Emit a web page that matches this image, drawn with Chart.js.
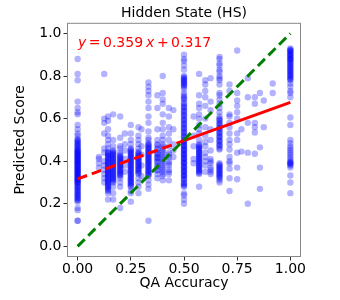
<!DOCTYPE html>
<html>
<head>
<meta charset="utf-8">
<script src="https://cdn.jsdelivr.net/npm/chart.js@4.4.1/dist/chart.umd.min.js"></script>
<style>
  html, body { margin: 0; padding: 0; background: #fff; }
</style>
</head>
<body>
<canvas id="chart" width="340" height="300"></canvas>
<script>
// QA accuracy levels (x) and the predicted scores read at each level (y)
const qaLevels = [0, 0.1, 0.125, 0.143, 0.167, 0.2, 0.222, 0.25, 0.286, 0.3, 0.333, 0.375, 0.4, 0.429, 0.45,
  0.5, 0.545, 0.571, 0.6, 0.625, 0.667, 0.714, 0.75, 0.77, 0.8, 0.833, 0.857, 0.875, 0.917, 1];
const predByLevel = [
  [0.88, 0.81, 0.78, 0.68, 0.65, 0.63, 0.62, 0.57, 0.55, 0.53, 0.52,
   0.505, 0.50, 0.495, 0.49, 0.485, 0.48, 0.475, 0.47, 0.465, 0.46, 0.455, 0.45, 0.445, 0.44, 0.435, 0.43, 0.425,
   0.42, 0.415, 0.41, 0.405, 0.40, 0.395, 0.39, 0.385, 0.38, 0.375, 0.37, 0.365, 0.36, 0.355, 0.35, 0.345, 0.34,
   0.335, 0.33, 0.325, 0.32, 0.315, 0.31, 0.305, 0.30, 0.295, 0.29, 0.285, 0.28, 0.275, 0.27, 0.265, 0.26, 0.255,
   0.25, 0.245, 0.24, 0.235, 0.23, 0.225, 0.22, 0.215, 0.21,
   0.45, 0.44, 0.43, 0.42, 0.41, 0.40, 0.39, 0.38, 0.37, 0.36, 0.35, 0.34, 0.33, 0.32, 0.31, 0.30,
   0.18, 0.17, 0.12, 0.12],
  [0.42, 0.41, 0.39, 0.37],
  [0.81, 0.60, 0.58, 0.53, 0.46, 0.44, 0.40, 0.38, 0.36, 0.34, 0.32, 0.30],
  [0.61, 0.59, 0.55, 0.52, 0.50, 0.48, 0.46, 0.44, 0.43, 0.42, 0.41, 0.40, 0.39, 0.38, 0.37, 0.36, 0.35, 0.34,
   0.33, 0.32, 0.31, 0.30, 0.29, 0.28, 0.27, 0.26, 0.25, 0.22,
   0.445, 0.435, 0.425, 0.415, 0.405, 0.395, 0.385, 0.375, 0.365, 0.355, 0.345, 0.335, 0.325, 0.315, 0.305,
   0.295, 0.285, 0.275, 0.265],
  [0.62, 0.50, 0.47, 0.45, 0.44, 0.43, 0.42, 0.41, 0.40, 0.39, 0.38, 0.37, 0.36, 0.35, 0.34, 0.33, 0.32, 0.31,
   0.30, 0.28, 0.25, 0.22,
   0.445, 0.435, 0.425, 0.415, 0.405, 0.395, 0.385, 0.375, 0.365, 0.355, 0.345, 0.335, 0.325, 0.315, 0.305],
  [0.61, 0.51, 0.47, 0.46, 0.44, 0.43, 0.42, 0.41, 0.40, 0.39, 0.38, 0.37, 0.36, 0.35, 0.34, 0.33, 0.32, 0.30,
   0.28, 0.18,
   0.425, 0.415, 0.405, 0.395, 0.385, 0.375, 0.365, 0.355, 0.345, 0.335],
  [0.53, 0.48, 0.45, 0.41, 0.38, 0.35],
  [0.57, 0.53, 0.50, 0.48, 0.46, 0.45, 0.44, 0.43, 0.42, 0.41, 0.40, 0.39, 0.38, 0.37, 0.36, 0.35, 0.34, 0.33,
   0.32, 0.31, 0.30, 0.29, 0.28, 0.26, 0.25, 0.21,
   0.455, 0.445, 0.435, 0.425, 0.415, 0.405, 0.395, 0.385, 0.375, 0.365, 0.355, 0.345, 0.335, 0.325, 0.315,
   0.305, 0.295, 0.285],
  [0.56, 0.52, 0.50, 0.48, 0.46, 0.44, 0.43, 0.42, 0.41, 0.40, 0.39, 0.38, 0.37, 0.36, 0.35, 0.34, 0.32, 0.30,
   0.28, 0.25,
   0.445, 0.435, 0.425, 0.415, 0.405, 0.395, 0.385, 0.375, 0.365, 0.355, 0.345],
  [0.55, 0.47, 0.43, 0.38, 0.33],
  [0.77, 0.75, 0.73, 0.71, 0.68, 0.65, 0.61, 0.58, 0.54, 0.51, 0.50, 0.48, 0.47, 0.46, 0.45, 0.44, 0.43, 0.42,
   0.41, 0.40, 0.39, 0.38, 0.37, 0.36, 0.35, 0.34, 0.33, 0.31, 0.29, 0.27, 0.12,
   0.485, 0.475, 0.465, 0.455, 0.445, 0.435, 0.425, 0.415, 0.405, 0.395, 0.385, 0.375, 0.365, 0.355, 0.345, 0.335],
  [0.71, 0.65, 0.55, 0.50, 0.48, 0.46, 0.44, 0.43, 0.42, 0.41, 0.40, 0.38, 0.36, 0.34, 0.32,
   0.475, 0.455, 0.435, 0.415, 0.395, 0.375, 0.355],
  [0.80, 0.72, 0.69, 0.67, 0.62, 0.58, 0.55, 0.52, 0.50, 0.48, 0.46, 0.45, 0.43, 0.41, 0.39, 0.37, 0.35, 0.33, 0.31,
   0.47, 0.44, 0.42, 0.40, 0.38, 0.36, 0.34],
  [0.65, 0.61, 0.56, 0.53, 0.50, 0.47, 0.44, 0.42, 0.40, 0.38, 0.36, 0.34, 0.31, 0.43, 0.39, 0.35],
  [0.64, 0.55, 0.48, 0.45, 0.42],
  [0.90, 0.88, 0.87, 0.85, 0.83, 0.80, 0.79, 0.78, 0.77, 0.76, 0.75, 0.74, 0.72, 0.71, 0.70, 0.69, 0.67, 0.66,
   0.65, 0.64, 0.63, 0.62, 0.61, 0.60, 0.59, 0.58, 0.57, 0.56, 0.55, 0.54, 0.53, 0.52, 0.51, 0.50, 0.49, 0.49,
   0.48, 0.47, 0.47, 0.46, 0.45, 0.45, 0.44, 0.43, 0.43, 0.42, 0.41, 0.41, 0.40, 0.39, 0.39, 0.38, 0.37, 0.37,
   0.36, 0.35, 0.35, 0.34, 0.33, 0.33, 0.32, 0.31, 0.30, 0.29, 0.28, 0.25, 0.24, 0.22, 0.20,
   0.795, 0.785, 0.775, 0.765, 0.755, 0.695, 0.675, 0.655, 0.635, 0.615, 0.595, 0.575, 0.555, 0.535, 0.515,
   0.495, 0.475, 0.455, 0.435, 0.415, 0.395, 0.375, 0.355, 0.335, 0.315, 0.295, 0.285],
  [0.61, 0.52, 0.47, 0.41, 0.39],
  [0.81, 0.71, 0.67, 0.65, 0.62, 0.60, 0.57, 0.55, 0.53, 0.50, 0.48, 0.47, 0.46, 0.45, 0.44, 0.43, 0.42, 0.41,
   0.40, 0.39, 0.38, 0.37, 0.36, 0.35, 0.34, 0.28,
   0.475, 0.465, 0.455, 0.445, 0.435, 0.425, 0.415, 0.405, 0.395, 0.385, 0.375, 0.365, 0.355, 0.345],
  [0.78, 0.76, 0.73, 0.70, 0.66, 0.60, 0.56, 0.52, 0.49, 0.47, 0.44, 0.42, 0.40, 0.38, 0.35],
  [0.79, 0.68, 0.64, 0.55, 0.50, 0.45, 0.41, 0.39, 0.37, 0.35, 0.34, 0.40, 0.36],
  [0.89, 0.88, 0.86, 0.85, 0.83, 0.82, 0.80, 0.79, 0.78, 0.76, 0.72, 0.71, 0.69, 0.67, 0.65, 0.63, 0.61, 0.60,
   0.59, 0.58, 0.57, 0.56, 0.55, 0.54, 0.53, 0.52, 0.51, 0.50, 0.49, 0.48, 0.47, 0.46, 0.39, 0.38, 0.37, 0.36,
   0.35, 0.34, 0.33, 0.32, 0.31, 0.30,
   0.595, 0.575, 0.555, 0.535, 0.515, 0.495, 0.475, 0.455, 0.385, 0.375, 0.365, 0.355, 0.345, 0.335, 0.325],
  [0.76, 0.73, 0.62, 0.61, 0.58, 0.56, 0.53, 0.50, 0.48, 0.455, 0.42, 0.40, 0.39, 0.365, 0.32, 0.26],
  [0.92, 0.72, 0.685, 0.66, 0.63, 0.60, 0.53, 0.50, 0.44, 0.37, 0.315],
  [0.55, 0.445],
  [0.79, 0.70, 0.58, 0.44, 0.20],
  [0.70, 0.67, 0.58, 0.56, 0.535, 0.435],
  [0.72, 0.465, 0.37, 0.27],
  [0.685, 0.56],
  [0.765, 0.72],
  [0.93, 0.92, 0.92, 0.91, 0.90, 0.90, 0.89, 0.88, 0.88, 0.87, 0.86, 0.85, 0.84, 0.83, 0.82, 0.81, 0.80, 0.79,
   0.78, 0.765, 0.75, 0.73, 0.72, 0.70, 0.605, 0.57, 0.50, 0.485, 0.47, 0.46, 0.45, 0.44, 0.43, 0.42, 0.41,
   0.40, 0.39, 0.39, 0.38, 0.37, 0.333, 0.30, 0.25,
   0.925, 0.915, 0.905, 0.895, 0.885, 0.875, 0.865, 0.855, 0.845, 0.835, 0.825, 0.815, 0.805, 0.795, 0.785,
   0.395, 0.385]
];

// fitted line y = 0.359 x + 0.317, dashed up to 0.5, solid after
const fitDashX = [0, 0.5];
const fitDashY = [0.317, 0.4965];
const fitSolidX = [0.5, 1];
const fitSolidY = [0.4965, 0.676];
// ideal y = x
const diagX = [0, 1];
const diagY = [0, 1];

const xTicks = [0, 0.25, 0.5, 0.75, 1];
const yTicks = [0, 0.2, 0.4, 0.6, 0.8, 1];

const pts = [];
qaLevels.forEach((qa, i) => {
    predByLevel[i].forEach(s => pts.push({ x: qa, y: s }));
});
const toXY = (xs, ys) => xs.map((x, i) => ({ x: x, y: ys[i] }));

const FONT = "'DejaVu Sans', sans-serif";

// frame round the plot area and the fit equation
const framePlugin = {
    id: 'frame',
    afterDatasetsDraw(chart) {
        const { ctx, chartArea: a } = chart;
        ctx.save();
        ctx.strokeStyle = '#888';
        ctx.lineWidth = 1;
        ctx.strokeRect(a.left + 0.5, a.top + 0.5, a.right - a.left - 1, a.bottom - a.top - 1);

        // equation text, math-style tight spacing
        const parts = [['y', 'italic', 2.5], ['=', 'normal', 2.5], ['0.359', 'normal', 3], ['x', 'italic', 2.5],
            ['+', 'normal', 2.5], ['0.317', 'normal', 0]];
        let x = a.left + 11;
        const y = a.top + 24;
        ctx.fillStyle = '#ff0000';
        ctx.textBaseline = 'alphabetic';
        parts.forEach(p => {
            ctx.font = p[1] + ' 14px ' + FONT;
            ctx.fillText(p[0], x, y);
            x += ctx.measureText(p[0]).width + p[2];
        });
        ctx.restore();
    }
};

new Chart(document.getElementById('chart'), {
    type: 'scatter',
    data: {
        datasets: [
            {
                data: pts,
                backgroundColor: 'rgba(0, 0, 255, 0.3)',
                borderWidth: 0,
                pointRadius: 3.2,
                order: 3
            },
            {
                type: 'line',
                data: toXY(fitDashX, fitDashY),
                borderColor: '#ff0000',
                borderWidth: 3,
                borderDash: [10, 5],
                pointRadius: 0,
                order: 2
            },
            {
                type: 'line',
                data: toXY(fitSolidX, fitSolidY),
                borderColor: '#ff0000',
                borderWidth: 3,
                pointRadius: 0,
                order: 2
            },
            {
                type: 'line',
                data: toXY(diagX, diagY),
                borderColor: '#008000',
                borderWidth: 3,
                borderDash: [10, 5],
                pointRadius: 0,
                order: 1
            }
        ]
    },
    options: {
        responsive: false,
        devicePixelRatio: 1,
        animation: false,
        layout: { padding: { left: 0, right: 39, top: 0, bottom: 0 } },
        plugins: {
            legend: { display: false },
            tooltip: { enabled: false },
            title: {
                display: true,
                text: 'Hidden State (HS)',
                color: '#000',
                fullSize: false,
                font: { family: FONT, size: 14, weight: 'normal' },
                padding: { top: 5, bottom: 1 }
            }
        },
        scales: {
            x: {
                type: 'linear',
                min: -0.05,
                max: 1.05,
                afterBuildTicks: s => { s.ticks = xTicks.map(v => ({ value: v })); },
                afterFit: s => { s.height = 43; },
                ticks: {
                    callback: v => v.toFixed(2),
                    color: '#000',
                    font: { family: FONT, size: 14 },
                    padding: 0,
                    maxRotation: 0
                },
                grid: { drawOnChartArea: false, drawTicks: true, tickLength: 3.5, color: '#333' },
                border: { display: false },
                title: {
                    display: true,
                    text: 'QA Accuracy',
                    color: '#000',
                    font: { family: FONT, size: 14 },
                    padding: { top: 0, bottom: 8 }
                }
            },
            y: {
                type: 'linear',
                min: -0.05,
                max: 1.05,
                afterBuildTicks: s => { s.ticks = yTicks.map(v => ({ value: v })); },
                afterFit: s => { s.width = 67; },
                ticks: {
                    callback: v => v.toFixed(1),
                    color: '#000',
                    font: { family: FONT, size: 14 },
                    padding: 2
                },
                grid: { drawOnChartArea: false, drawTicks: true, tickLength: 3.5, color: '#333' },
                border: { display: false },
                title: {
                    display: true,
                    text: 'Predicted Score',
                    color: '#000',
                    font: { family: FONT, size: 14 },
                    padding: { top: 12, bottom: 0 }
                }
            }
        }
    },
    plugins: [framePlugin]
});
</script>
</body>
</html>
